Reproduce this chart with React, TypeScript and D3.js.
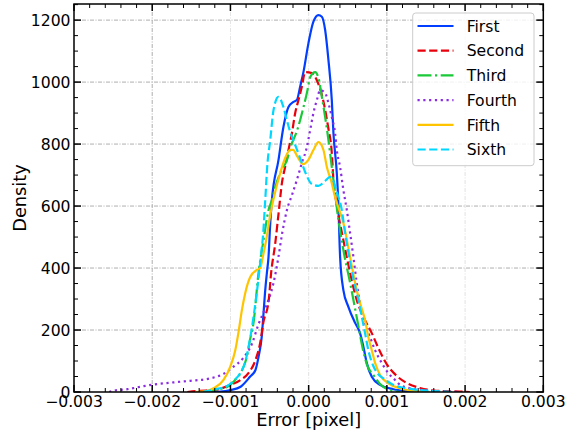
import React from 'react';
import * as d3 from 'd3';

// ---------- data (x = error in pixel, y = density) ----------
const seriesNames = ['First', 'Second', 'Third', 'Fourth', 'Fifth', 'Sixth'];

const firstPts: [number, number][] = [
  [-0.00125, 0], [-0.00113, 1], [-0.001, 6], [-0.00087, 17], [-0.00075, 49], [-0.00068, 71],
  [-0.00064, 114], [-0.0006, 178], [-0.00058, 243], [-0.000555, 329], [-0.000534, 384],
  [-0.000513, 436], [-0.000491, 545], [-0.00047, 619], [-0.000386, 748], [-0.000322, 856],
  [-0.000258, 920], [-0.000194, 936], [-0.000151, 942], [-0.000109, 985], [-0.000066, 1033],
  [-0.000003, 1125], [0.000061, 1195], [0.000125, 1216], [0.000169, 1211], [0.000211, 1168],
  [0.000253, 1071], [0.000296, 942], [0.000317, 835], [0.00036, 706], [0.000378, 619],
  [0.000402, 436], [0.000444, 329], [0.000508, 275], [0.000594, 223], [0.000657, 190],
  [0.0007, 146], [0.000743, 94], [0.000807, 49], [0.000913, 23], [0.001083, 9], [0.001254, 3],
  [0.0014, 0],
];

const secondPts: [number, number][] = [
  [-0.00155, 0], [-0.00139, 4], [-0.00122, 6], [-0.001, 23], [-0.00087, 39], [-0.00077, 61],
  [-0.00068, 103], [-0.00062, 158], [-0.00058, 223], [-0.00051, 297], [-0.00048, 384],
  [-0.00043, 474], [-0.00038, 587], [-0.000342, 674], [-0.0003, 727], [-0.000258, 781],
  [-0.000214, 835], [-0.000172, 900], [-0.00013, 942], [-0.000087, 985], [-0.000045, 1032],
  [0.000041, 1029], [0.000105, 1006], [0.000185, 942], [0.000249, 855], [0.000296, 771],
  [0.000317, 684], [0.00036, 603], [0.000444, 490], [0.00053, 384], [0.000615, 297],
  [0.000721, 232], [0.000807, 190], [0.000891, 142], [0.000998, 90], [0.001126, 52],
  [0.001254, 29], [0.001423, 13], [0.001637, 4], [0.00193, 1.5], [0.00206, 0],
];

const thirdPts: [number, number][] = [
  [-0.00135, 0], [-0.00122, 6], [-0.00104, 17], [-0.00094, 39], [-0.00085, 71], [-0.00079, 114],
  [-0.00075, 168], [-0.000705, 223], [-0.000641, 384], [-0.000577, 490], [-0.000513, 587],
  [-0.00047, 619], [-0.000428, 661], [-0.000364, 706], [-0.000278, 748], [-0.000214, 803],
  [-0.00016, 835], [-0.000109, 877], [-0.000066, 919], [-0.000015, 974], [0.000019, 1016],
  [0.000083, 1032], [0.000126, 1013], [0.000169, 952], [0.000211, 887], [0.000253, 813],
  [0.000296, 726], [0.000338, 642], [0.000364, 587], [0.000444, 458], [0.00053, 352],
  [0.000636, 213], [0.000696, 135], [0.000747, 87], [0.000827, 55], [0.000913, 26],
  [0.00104, 6], [0.00117, 0],
];

const fourthPts: [number, number][] = [
  [-0.00255, 0], [-0.002496, 4], [-0.002317, 9], [-0.002151, 17], [-0.001985, 24],
  [-0.00173, 31], [-0.001513, 36], [-0.001258, 44], [-0.001091, 58], [-0.000964, 81],
  [-0.000836, 110], [-0.000721, 158], [-0.000645, 216], [-0.000581, 255], [-0.000513, 297],
  [-0.000449, 352], [-0.000386, 436], [-0.000338, 513], [-0.000278, 587], [-0.000214, 635],
  [-0.000151, 684], [-0.000087, 739], [-0.000023, 790], [0.000019, 845], [0.000061, 900],
  [0.000105, 942], [0.000147, 974], [0.000211, 965], [0.000253, 932], [0.000296, 887],
  [0.000338, 835], [0.00036, 781], [0.000402, 726], [0.000444, 652], [0.000488, 587],
  [0.00053, 513], [0.000572, 436], [0.000615, 352], [0.000657, 287], [0.000721, 223],
  [0.000785, 177], [0.000849, 135], [0.000934, 94], [0.001019, 61], [0.001104, 39],
  [0.001168, 23], [0.001296, 12], [0.001462, 6], [0.001679, 2], [0.00194, 0],
];

const fifthPts: [number, number][] = [
  [-0.00145, 0], [-0.001321, 2], [-0.001215, 12], [-0.001088, 39], [-0.001002, 82],
  [-0.000938, 135], [-0.000896, 194], [-0.000853, 265], [-0.000811, 319], [-0.000747, 371],
  [-0.000661, 394], [-0.000619, 400], [-0.000581, 442], [-0.000543, 490], [-0.000491, 571],
  [-0.000428, 645], [-0.000364, 706], [-0.0003, 755], [-0.000236, 781], [-0.000198, 781],
  [-0.000147, 761], [-0.00007, 735], [-0.000006, 748], [0.000061, 781], [0.000125, 806],
  [0.000189, 781], [0.000232, 727], [0.000296, 674], [0.000338, 629], [0.00037, 603],
  [0.000444, 545], [0.00053, 436], [0.000594, 352], [0.000657, 287], [0.000721, 232],
  [0.000763, 177], [0.000807, 135], [0.000849, 94], [0.000913, 55], [0.001019, 28],
  [0.001168, 12], [0.001334, 4], [0.00155, 0],
];

const sixthPts: [number, number][] = [
  [-0.00135, 0], [-0.001172, 10], [-0.001066, 16], [-0.000964, 35], [-0.000874, 61],
  [-0.000811, 97], [-0.000747, 174], [-0.000696, 258], [-0.000651, 345], [-0.000613, 432],
  [-0.000581, 513], [-0.000555, 619], [-0.00053, 726], [-0.000491, 813], [-0.000449, 910],
  [-0.000386, 952], [-0.000322, 919], [-0.000278, 877], [-0.000236, 839], [-0.000172, 797],
  [-0.000109, 755], [-0.000045, 710], [0.000041, 671], [0.000125, 665], [0.000211, 681],
  [0.000274, 694], [0.000317, 681], [0.00036, 645], [0.000424, 587], [0.000466, 513],
  [0.00053, 419], [0.000594, 340], [0.000636, 297], [0.000679, 243], [0.000721, 190],
  [0.000763, 135], [0.000827, 84], [0.000887, 58], [0.000955, 44], [0.001083, 23],
  [0.001254, 12], [0.001423, 6], [0.00168, 2], [0.00187, 0],
];

const seriesData = [firstPts, secondPts, thirdPts, fourthPts, fifthPts, sixthPts];

const xTicks = [-0.003, -0.002, -0.001, 0, 0.001, 0.002, 0.003];
const xTickLabels = ['\u22120.003', '\u22120.002', '\u22120.001', '0.000', '0.001', '0.002', '0.003'];
const yTicks = [0, 200, 400, 600, 800, 1000, 1200];
const yTickLabels = ['0', '200', '400', '600', '800', '1000', '1200'];

// ---------- styles ----------
const seriesColors = ['#023eff', '#e8000b', '#1ac938', '#8b2be2', '#ffc400', '#00d7ff'];
const seriesDash = ['', '8.2 3.5', '14 3.5 2.2 3.5', '2.2 3.6', '', '8.2 3.5'];

const W = 577;
const H = 434;
const L = 74, R = 543.3, T = 4, B = 392;
const FONT = 'DejaVu Sans, sans-serif';

export default function App() {
  const x = d3.scaleLinear().domain([-0.003, 0.003]).range([L, R]);
  const y = d3.scaleLinear().domain([0, 1252]).range([B, T]);
  const line = d3
    .line<[number, number]>()
    .x((d) => x(d[0]))
    .y((d) => y(d[1]))
    .curve(d3.curveMonotoneX);

  const xMinor = d3.range(-15, 16).filter((i) => i % 5 !== 0).map((i) => i * 0.0002);
  const yMinor = d3.range(0, 1251, 50).filter((v) => v % 200 !== 0);

  const majLen = 7, minLen = 4;

  return (
    <div style={{ position: 'absolute', left: 0, top: 0 }}>
      <svg width={W} height={H} style={{ display: 'block', background: '#fff' }} fontFamily={FONT}>
        <defs>
          <clipPath id="plotclip">
            <rect x={L} y={T} width={R - L} height={B - T} />
          </clipPath>
        </defs>
        <rect x={0} y={0} width={W} height={H} fill="#fff" />
        {/* grid */}
        <g stroke="#9a9a9a" strokeWidth={0.8} strokeDasharray="4 1.5 1 1.5">
          {yTicks.slice(1).map((v) => (
            <line key={'gy' + v} x1={L} x2={R} y1={y(v)} y2={y(v)} />
          ))}
          {xTicks.slice(1, -1).map((v) => (
            <line key={'gx' + v} x1={x(v)} x2={x(v)} y1={T} y2={B}
              opacity={v === -0.002 || v === 0.001 ? 1 : 0.35} />
          ))}
        </g>
        {/* curves */}
        <g clipPath="url(#plotclip)" fill="none" strokeWidth={2.2} strokeLinejoin="round">
          {seriesData.map((pts, i) => (
            <path key={seriesNames[i]} d={line(pts) || ''} stroke={seriesColors[i]}
              strokeDasharray={seriesDash[i] || undefined} />
          ))}
        </g>
        {/* ticks */}
        <g stroke="#000">
          {xTicks.map((v) => (
            <g key={'xt' + v} strokeWidth={1.5}>
              <line x1={x(v)} x2={x(v)} y1={B} y2={B - majLen} />
              <line x1={x(v)} x2={x(v)} y1={T} y2={T + majLen} />
            </g>
          ))}
          {xMinor.map((v) => (
            <g key={'xm' + v} strokeWidth={1}>
              <line x1={x(v)} x2={x(v)} y1={B} y2={B - minLen} />
              <line x1={x(v)} x2={x(v)} y1={T} y2={T + minLen} />
            </g>
          ))}
          {yTicks.map((v) => (
            <g key={'yt' + v} strokeWidth={1.5}>
              <line x1={L} x2={L + majLen} y1={y(v)} y2={y(v)} />
              <line x1={R} x2={R - majLen} y1={y(v)} y2={y(v)} />
            </g>
          ))}
          {yMinor.map((v) => (
            <g key={'ym' + v} strokeWidth={1}>
              <line x1={L} x2={L + minLen} y1={y(v)} y2={y(v)} />
              <line x1={R} x2={R - minLen} y1={y(v)} y2={y(v)} />
            </g>
          ))}
        </g>
        {/* frame */}
        <rect x={L} y={T} width={R - L} height={B - T} fill="none" stroke="#000" strokeWidth={1.5} />
        {/* tick labels */}
        <g fontSize={15.6} fill="#000">
          {xTicks.map((v, i) => (
            <text key={'xl' + v} x={x(v)} y={407} textAnchor="middle">{xTickLabels[i]}</text>
          ))}
          {yTicks.map((v, i) => (
            <text key={'yl' + v} x={70.5} y={y(v) + 5.7} textAnchor="end">{yTickLabels[i]}</text>
          ))}
        </g>
        {/* axis labels */}
        <text x={(L + R) / 2} y={426} textAnchor="middle" fontSize={17.8}>Error [pixel]</text>
        <text transform={`translate(26,${(T + B) / 2}) rotate(-90)`} textAnchor="middle" fontSize={17.8}>Density</text>
        {/* legend */}
        <g>
          <rect x={412.7} y={13} width={121.3} height={152.7} rx={3} fill="#fff" fillOpacity={0.8}
            stroke="#cccccc" strokeWidth={1} />
          {seriesNames.map((name, i) => {
            const cy = 26 + i * 24.7;
            return (
              <g key={'lg' + name}>
                <line x1={417.5} x2={453.5} y1={cy} y2={cy} stroke={seriesColors[i]} strokeWidth={2.2}
                  strokeDasharray={seriesDash[i] || undefined} />
                <text x={466.7} y={cy + 5.7} fontSize={15.6} fill="#000">{name}</text>
              </g>
            );
          })}
        </g>
      </svg>
    </div>
  );
}
